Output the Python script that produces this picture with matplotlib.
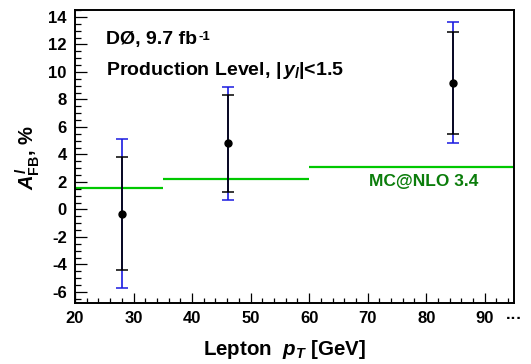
import matplotlib
matplotlib.use("Agg")
import matplotlib.pyplot as plt
from matplotlib.ticker import MultipleLocator

# Measured forward-backward lepton asymmetry in bins of lepton pT
pt_centers = [28.1, 46.2, 84.5]
afb = [-0.3, 4.8, 9.2]
stat_err = [4.1, 3.5, 3.7]
total_err = [5.4, 4.1, 4.4]

# MC@NLO prediction per bin
mc_edges = [20, 35, 60, 95]
mc_values = [1.55, 2.25, 3.07]

x_ticks = [20, 30, 40, 50, 60, 70, 80, 90]
y_ticks = [-6, -4, -2, 0, 2, 4, 6, 8, 10, 12, 14]

plt.rcParams["font.family"] = ["Liberation Sans", "DejaVu Sans"]
plt.rcParams["font.weight"] = "bold"
plt.rcParams["axes.unicode_minus"] = False
plt.rcParams["mathtext.fontset"] = "custom"
plt.rcParams["mathtext.rm"] = "Liberation Sans:bold"
plt.rcParams["mathtext.bf"] = "Liberation Sans:bold"
plt.rcParams["mathtext.it"] = "Liberation Sans:bold:italic"

fig = plt.figure(figsize=(5.31, 3.64), dpi=100)
ax = fig.add_axes([75 / 531, 1 - 303 / 364, 439 / 531, 293 / 364])

green = "#00c800"
for lo, hi, v in zip(mc_edges[:-1], mc_edges[1:], mc_values):
    ax.hlines(v, lo, hi, color=green, lw=1.6, zorder=1)

ax.errorbar(pt_centers, afb, yerr=total_err, fmt="none", ecolor="#1a1ae0",
            elinewidth=1.2, capsize=4.0, capthick=1.1, zorder=2)
ax.errorbar(pt_centers, afb, yerr=stat_err, fmt="o", color="black",
            ms=5, elinewidth=1.2, capsize=4.0, capthick=1.1, zorder=3)

ax.set_xlim(20, 95)
ax.set_ylim(-6.8, 14.5)
ax.set_xticks(x_ticks)
ax.set_yticks(y_ticks)
ax.xaxis.set_minor_locator(MultipleLocator(2))
ax.yaxis.set_minor_locator(MultipleLocator(0.5))
ax.tick_params(axis="x", which="major", direction="in", length=7.2, width=0.9,
               labelsize=12, pad=6, top=False)
ax.tick_params(axis="x", which="minor", direction="in", length=3.6, width=0.9, top=False)
ax.tick_params(axis="y", which="major", direction="in", length=8.6, width=0.9,
               labelsize=12, pad=6, right=False)
ax.tick_params(axis="y", which="minor", direction="in", length=4.3, width=0.9, right=False)
for s in ax.spines.values():
    s.set_linewidth(1.4)

ax.text(95, -0.028, "···", transform=ax.get_xaxis_transform(), ha="center",
        va="top", fontsize=12, fontweight="bold")

t1 = ax.text(0.0706, 0.884, "DØ, 9.7 fb", transform=ax.transAxes,
             fontsize=14, fontweight="bold", va="baseline", ha="left")
ax.annotate("-1", xy=(1, 1), xycoords=t1, xytext=(1, 0), textcoords="offset points",
            ha="left", va="top", fontsize=9.5, fontweight="bold")
ax.text(0.0706, 0.778, r"Production Level, $|\,\mathit{y}_{\mathit{l}}|$<1.5",
        transform=ax.transAxes, fontsize=14, fontweight="bold",
        va="baseline", ha="left")
ax.text(79.5, 1.7, "MC@NLO 3.4", color="#0b7d0b", fontsize=12.5,
        fontweight="bold", ha="center", va="baseline")

fig.text(284 / 531, 1 - 355 / 364, r"Lepton  $\mathit{p}_{\mathit{T}}$ [GeV]",
         ha="center", va="baseline", fontsize=14.8, fontweight="bold")
fig.text(28 / 531, 1 - 158 / 364, r"$\mathit{A}^{\mathit{l}}_{\mathregular{FB}}$, %",
         ha="center", va="center", rotation=90, fontsize=14.5, fontweight="bold")

fig.savefig("out.png", dpi=100)
